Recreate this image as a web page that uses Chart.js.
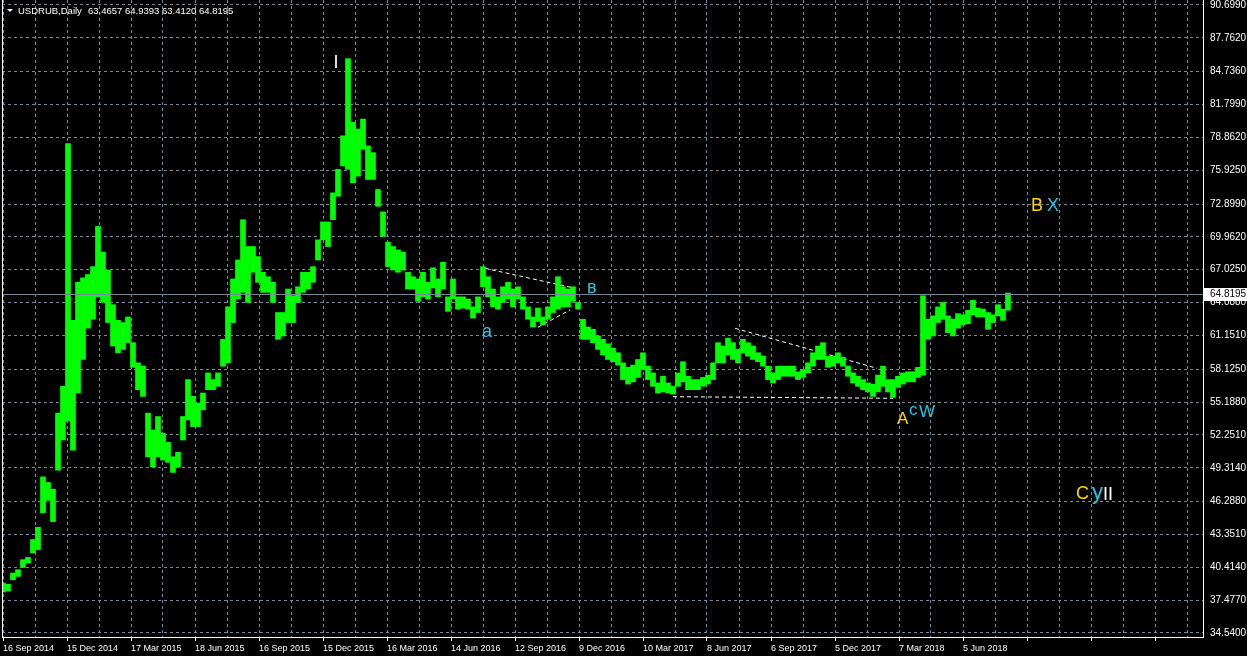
<!DOCTYPE html>
<html>
<head>
<meta charset="utf-8">
<script src="https://cdn.jsdelivr.net/npm/chart.js@4.4.1/dist/chart.umd.min.js"></script>
<style>
html, body { margin: 0; padding: 0; background: #000; }
</style>
</head>
<body>
<canvas id="myChart" width="1247" height="656"></canvas>
<script>
var symbol = "USDRUB,Daily";
var lastOHLC = [63.4657, 64.9393, 63.4120, 64.8195];

// x axis labels, one every 64 daily bars
var dateLabels = ["16 Sep 2014", "15 Dec 2014", "17 Mar 2015", "18 Jun 2015", "16 Sep 2015",
  "15 Dec 2015", "16 Mar 2016", "14 Jun 2016", "12 Sep 2016", "9 Dec 2016", "10 Mar 2017",
  "8 Jun 2017", "6 Sep 2017", "5 Dec 2017", "7 Mar 2018", "5 Jun 2018"];

// price scale labels
var priceLabels = ["34.5400", "37.4770", "40.4140", "43.3510", "46.2880", "49.3140", "52.2510",
  "55.1880", "58.1250", "61.1510", "64.0880", "67.0250", "69.9620", "72.8990", "75.9250",
  "78.8620", "81.7990", "84.7360", "87.7620", "90.6990"];

// price range of each group of 5 daily bars
var barStep = 5;
var lows = [
  38.2, 38.3, 39.3, 39.6, 40.4, 40.8, 41.7, 42.0, 45.3, 46.4,
  44.5, 49.1, 51.8, 53.5, 50.9, 56.0, 59.0, 61.8, 62.6, 64.6,
  64.1, 62.3, 60.2, 59.6, 59.9, 60.5, 58.3, 56.3, 55.7, 50.3,
  49.4, 50.3, 50.0, 49.8, 48.9, 49.4, 51.8, 53.6, 53.0, 53.0,
  54.5, 56.3, 56.3, 56.6, 58.4, 58.7, 62.3, 64.4, 65.0, 64.1,
  66.8, 65.9, 65.0, 65.0, 64.1, 60.8, 61.1, 62.3, 62.3, 64.1,
  65.0, 65.3, 65.9, 67.9, 69.7, 69.1, 71.5, 73.6, 76.3, 76.0,
  74.8, 75.4, 77.8, 75.1, 75.1, 72.7, 70.0, 67.3, 67.0, 66.8,
  67.0, 65.3, 65.3, 64.2, 64.6, 64.4, 65.4, 64.6, 65.3, 63.3,
  64.4, 63.5, 63.6, 63.5, 62.7, 63.2, 65.5, 64.6, 63.7, 63.5,
  64.1, 64.4, 63.7, 64.4, 63.5, 62.6, 61.9, 62.4, 62.1, 62.6,
  63.2, 63.5, 63.7, 63.7, 64.2, 63.5, 60.8, 60.8, 60.5, 59.9,
  59.4, 59.0, 58.8, 58.5, 57.2, 56.8, 57.0, 57.4, 58.1, 57.2,
  56.6, 56.0, 56.1, 56.0, 55.9, 56.6, 57.0, 56.3, 56.3, 56.3,
  56.6, 56.8, 57.2, 58.7, 58.7, 59.4, 59.0, 58.7, 59.6, 59.3,
  59.0, 58.8, 58.4, 57.2, 56.9, 57.2, 57.5, 57.5, 57.5, 57.2,
  57.4, 57.8, 58.4, 59.0, 59.0, 58.3, 58.4, 58.7, 58.4, 57.5,
  56.9, 56.6, 56.3, 56.1, 55.7, 56.1, 56.6, 56.1, 55.6, 56.5,
  56.8, 57.0, 57.0, 57.4, 57.6, 60.8, 61.1, 62.3, 62.6, 61.4,
  61.1, 61.8, 62.1, 62.2, 63.0, 62.8, 62.8, 61.7, 62.3, 62.9,
  62.5, 63.41
];
var highs = [
  39.0, 38.9, 39.9, 40.2, 41.1, 41.3, 42.9, 44.0, 48.5, 48.0,
  47.4, 54.2, 56.6, 78.3, 62.5, 65.9, 66.3, 66.6, 67.3, 70.9,
  68.6, 67.0, 63.9, 62.5, 62.3, 62.8, 60.5, 58.7, 58.4, 54.2,
  52.7, 53.9, 52.4, 51.6, 50.3, 50.7, 53.9, 57.2, 55.7, 55.1,
  56.0, 57.8, 57.2, 57.8, 60.8, 63.7, 66.2, 67.9, 71.5, 69.1,
  69.1, 68.2, 66.8, 66.4, 65.9, 63.2, 63.2, 65.3, 64.7, 65.5,
  66.8, 66.8, 67.3, 69.7, 71.3, 71.3, 73.9, 76.0, 79.0, 85.9,
  80.2, 79.6, 80.5, 78.1, 77.5, 74.2, 72.2, 69.5, 69.1, 68.8,
  68.6, 66.8, 66.4, 66.2, 66.8, 65.9, 67.2, 66.2, 67.7, 64.6,
  66.2, 64.6, 64.6, 64.4, 63.7, 64.6, 67.3, 66.4, 65.3, 64.6,
  65.5, 65.9, 65.3, 65.5, 64.6, 63.7, 62.8, 63.6, 62.8, 63.7,
  64.6, 66.4, 65.5, 65.3, 65.5, 64.1, 62.6, 61.9, 61.7, 61.1,
  60.8, 60.4, 60.0, 59.6, 58.7, 58.3, 58.5, 59.0, 59.6, 58.4,
  57.8, 56.9, 57.5, 56.9, 56.6, 57.8, 58.8, 57.5, 57.2, 57.2,
  57.4, 57.6, 58.7, 60.5, 60.2, 60.9, 60.5, 59.9, 60.8, 60.5,
  60.2, 59.6, 59.3, 58.4, 57.8, 58.4, 58.4, 58.4, 58.4, 57.9,
  58.1, 58.7, 59.6, 60.2, 60.5, 59.3, 59.3, 59.6, 59.2, 58.4,
  57.8, 57.5, 57.2, 56.9, 56.8, 57.6, 58.4, 57.2, 57.2, 57.5,
  57.8, 57.9, 57.9, 58.3, 64.7, 62.6, 62.9, 63.7, 64.1, 62.9,
  62.6, 63.1, 63.0, 63.4, 64.3, 63.6, 63.5, 63.2, 63.0, 63.9,
  63.5, 64.94
];

// trend lines: bar, price, bar, price
var trendLines = [
  [482, 67.15, 568, 65.45],
  [535, 61.88, 567, 63.43],
  [732, 61.79, 874, 58.21],
  [670, 55.67, 890, 55.53]
];

// wave marks: text, bar, price
var waveText = ["I", "a", "в", "A", "c", "W", "B", "X", "C", "y", "II"];
var waveBar = [330.5, 479, 584, 894, 906, 916, 1028, 1044, 1073, 1089, 1100];
var wavePrice = [85.06, 61.01, 64.94, 53.23, 54.03, 53.86, 72.28, 72.28, 46.52, 46.52, 46.43];

var GREEN = "#00ff00";
var GRID = "#778899";
var YELLOW = "#ffd700";
var CYAN = "#1ec8e6";
var FONT = "'Liberation Sans', Arial, sans-serif";

function waveStyle(t) {
  if (t === "I" || t === "II") return { color: "#ffffff", size: 18 };
  if (t === "A" || t === "B" || t === "C") return { color: YELLOW, size: t === "A" ? 17 : 18 };
  if (t === "y") return { color: CYAN, size: 22 };
  return { color: CYAN, size: t === "c" || t === "W" ? 17 : 18 };
}

var bars = lows.map(function (lo, i) {
  return { x: i * barStep, y: [lo, highs[i]] };
});

var trendSets = trendLines.map(function (t) {
  return {
    type: "line",
    data: [{ x: t[0], y: t[1] }, { x: t[2], y: t[3] }],
    borderColor: "#ffffff",
    borderWidth: 1,
    borderDash: [4, 3],
    pointRadius: 0,
    fill: false
  };
});

var mtPlugin = {
  id: "mtPlugin",
  beforeDraw: function (chart) {
    var c = chart.ctx;
    c.save();
    c.fillStyle = "#000";
    c.fillRect(0, 0, chart.width, chart.height);
    c.restore();
  },
  afterDatasetsDraw: function (chart) {
    var c = chart.ctx, a = chart.chartArea, ys = chart.scales.y;
    var py = Math.round(ys.getPixelForValue(lastOHLC[3])) + 0.5;
    c.save();
    c.strokeStyle = GRID;
    c.lineWidth = 1;
    c.beginPath();
    c.moveTo(a.left, py);
    c.lineTo(a.right, py);
    c.stroke();
    c.restore();
  },
  afterDraw: function (chart) {
    var c = chart.ctx, a = chart.chartArea, xs = chart.scales.x, ys = chart.scales.y;
    c.save();
    // left frame
    c.strokeStyle = "#fff";
    c.lineWidth = 1;
    c.beginPath();
    c.moveTo(a.left + 0.5, 0);
    c.lineTo(a.left + 0.5, a.bottom);
    c.stroke();

    // last price box
    var py = Math.round(ys.getPixelForValue(lastOHLC[3]));
    c.fillStyle = "#fff";
    c.fillRect(a.right + 1, py - 6, chart.width - a.right - 1, 13);
    c.fillStyle = "#000";
    c.font = "10px " + FONT;
    c.textBaseline = "middle";
    c.textAlign = "left";
    c.fillText(lastOHLC[3].toFixed(4), a.right + 7, py + 0.5);

    // header
    c.fillStyle = "#fff";
    c.beginPath();
    c.moveTo(7, 9);
    c.lineTo(13, 9);
    c.lineTo(10, 12);
    c.closePath();
    c.fill();
    c.font = "9.5px " + FONT;
    c.textBaseline = "alphabetic";
    c.fillText(symbol, 18, 14);
    c.fillText(lastOHLC.map(function (v) { return v.toFixed(4); }).join(" "), 88, 14);

    // wave marks
    waveText.forEach(function (t, i) {
      var st = waveStyle(t);
      c.fillStyle = st.color;
      c.font = st.size + "px " + FONT;
      c.fillText(t, xs.getPixelForValue(waveBar[i]), ys.getPixelForValue(wavePrice[i]));
    });
    c.restore();
  }
};

var ctx = document.getElementById("myChart").getContext("2d");
var chart = new Chart(ctx, {
  type: "bar",
  data: {
    datasets: [{
      data: bars,
      backgroundColor: GREEN,
      borderWidth: 0,
      barPercentage: 1,
      categoryPercentage: 1
    }].concat(trendSets)
  },
  options: {
    responsive: false,
    animation: false,
    devicePixelRatio: 1,
    layout: { padding: { left: 2, top: 0, right: 0, bottom: 0 } },
    plugins: { legend: { display: false }, tooltip: { enabled: false } },
    scales: {
      x: {
        type: "linear",
        min: -1,
        max: 1200,
        offset: false,
        grid: {
          offset: false,
          color: GRID,
          lineWidth: 1,
          drawTicks: true,
          tickLength: 4,
          tickColor: function (c) { return c.tick && c.tick.value % 64 === 0 ? "#fff" : "rgba(0,0,0,0)"; }
        },
        border: { color: "#fff", width: 1, dash: [3, 3] },
        ticks: {
          color: "#fff",
          font: { family: FONT, size: 9 },
          align: "start",
          padding: 2,
          autoSkip: false,
          maxRotation: 0,
          callback: function (v) { return v % 64 === 0 && dateLabels[v / 64] ? dateLabels[v / 64] : ""; }
        },
        afterBuildTicks: function (s) {
          var t = [];
          for (var v = 0; v < 1200; v += 32) t.push({ value: v });
          s.ticks = t;
        },
        afterFit: function (s) {
          s.height = 19;
          s.paddingLeft = 0; s.paddingRight = 0;
        }
      },
      y: {
        position: "right",
        min: 34.182,
        max: 91.146,
        grid: { color: GRID, lineWidth: 1, drawTicks: false },
        border: { color: "#fff", width: 1, dash: [3, 3] },
        ticks: {
          color: "#fff",
          font: { family: FONT, size: 10 },
          padding: 7,
          autoSkip: false,
          callback: function (v) { return v.toFixed(4); }
        },
        afterBuildTicks: function (s) {
          s.ticks = priceLabels.map(function (p) { return { value: parseFloat(p) }; });
        },
        afterFit: function (s) {
          s.width = 44;
          s.paddingTop = 0; s.paddingBottom = 0;
        }
      }
    }
  },
  plugins: [mtPlugin]
});
</script>
</body>
</html>
